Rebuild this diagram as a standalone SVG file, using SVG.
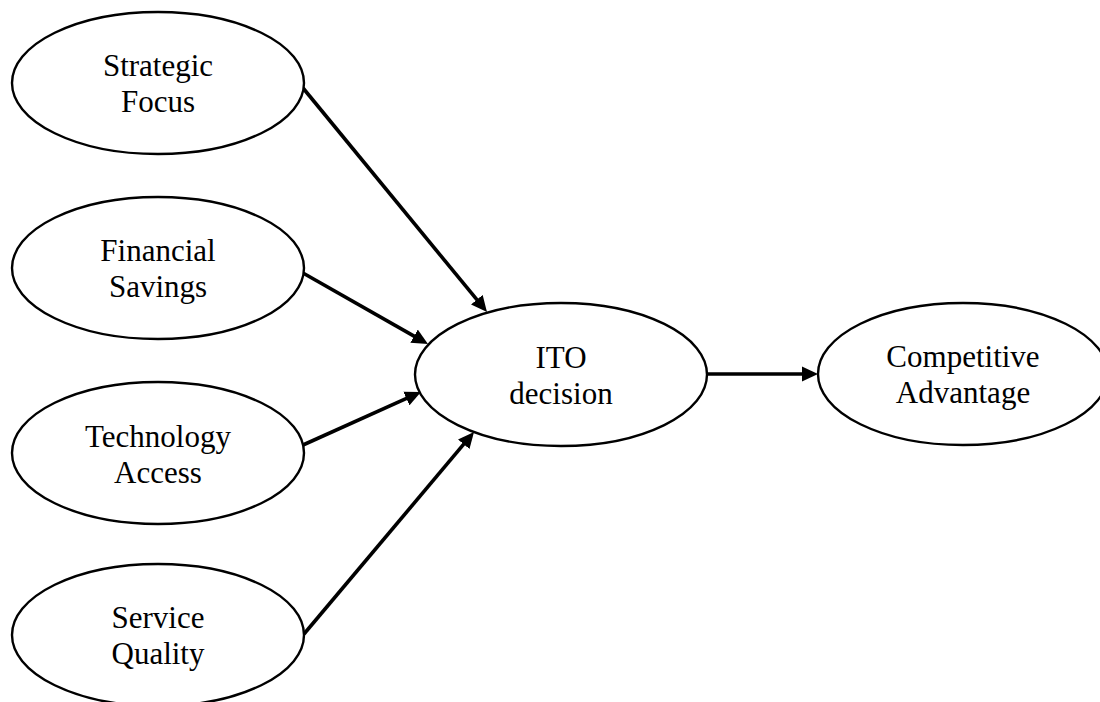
<svg xmlns="http://www.w3.org/2000/svg" width="1100" height="702" viewBox="0 0 1100 702">
<style>
.node ellipse{fill:#fff;stroke:#000;stroke-width:2.4}
.node text{font-family:"Liberation Serif","Times New Roman",serif;font-size:31px;fill:#000;text-anchor:middle}
.edge{stroke:#000;stroke-width:3.6;fill:none;marker-end:url(#arr)}
</style>
<defs>
<marker id="arr" viewBox="0 0 16 16" refX="2" refY="8" markerWidth="16" markerHeight="16" markerUnits="userSpaceOnUse" orient="auto">
<path d="M0,0.5 L16,8 L0,15.5 z" fill="#000"/>
</marker>
</defs>
<rect width="1100" height="702" fill="#fff"/>
<g id="connectors">
<line class="edge" x1="303" y1="88" x2="478.1" y2="301.2"/>
<line class="edge" x1="303" y1="273" x2="415.8" y2="337.1"/>
<line class="edge" x1="303" y1="445" x2="408.2" y2="397.7"/>
<line class="edge" x1="304" y1="634" x2="465" y2="442.7"/>
<line class="edge" x1="707" y1="374" x2="804" y2="374"/>
</g>
<g id="strategic-focus" class="node">
<ellipse cx="158" cy="83" rx="146" ry="71"/>
<text x="158" y="76">Strategic</text>
<text x="158" y="112">Focus</text>
</g>
<g id="financial-savings" class="node">
<ellipse cx="158" cy="268" rx="146" ry="71"/>
<text x="158" y="261">Financial</text>
<text x="158" y="297">Savings</text>
</g>
<g id="technology-access" class="node">
<ellipse cx="158" cy="453" rx="146" ry="71"/>
<text x="158" y="447">Technology</text>
<text x="158" y="483">Access</text>
</g>
<g id="service-quality" class="node">
<ellipse cx="158" cy="635" rx="146" ry="71"/>
<text x="158" y="628">Service</text>
<text x="158" y="664">Quality</text>
</g>
<g id="ito-decision" class="node">
<ellipse cx="561" cy="374.5" rx="146" ry="71.5"/>
<text x="561" y="368">ITO</text>
<text x="561" y="404">decision</text>
</g>
<g id="competitive-advantage" class="node">
<ellipse cx="963" cy="374" rx="145" ry="71"/>
<text x="963" y="367">Competitive</text>
<text x="963" y="403">Advantage</text>
</g>
</svg>
